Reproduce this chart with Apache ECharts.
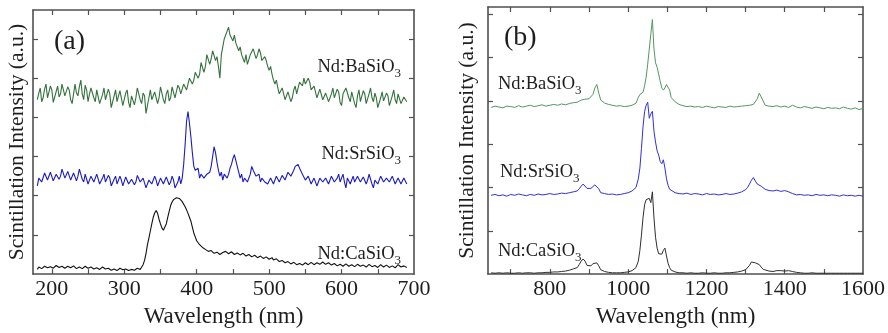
<!DOCTYPE html>
<html><head><meta charset="utf-8">
<script src="https://cdn.jsdelivr.net/npm/echarts@6/dist/echarts.min.js"></script>
<style>html,body{margin:0;padding:0;background:#fff}#c{width:888px;height:333px}</style>
</head><body><div id="c"></div>
<script>
// ---------- Panel (a): sampling grid (nm) ----------
const wavelengthStartA = 180;
const wavelengthStepA = 2;
// Nd:BaSiO3 (a)
const baSiO3A = [
4.45,4.62,4.75,4.4,4.5,4.72,4.85,4.5,4.55,4.8,4.7,4.38,4.4,4.66,4.8,4.52,4.6,4.85,4.9,4.55,
4.5,4.78,4.7,4.45,4.35,4.6,4.85,4.62,4.55,4.78,4.95,4.6,4.45,4.82,4.7,4.4,4.6,4.75,4.8,4.5,
4.4,4.7,4.65,4.35,4.3,4.58,4.75,4.45,4.5,4.72,4.6,4.25,4.2,4.55,4.7,4.4,4.45,4.68,4.65,4.3,
4.35,4.62,4.7,4.38,4.25,4.55,4.6,4.32,4.5,4.75,4.8,4.45,4.35,4.62,4.55,4.1,4.15,4.5,4.7,4.45,
4.4,4.65,4.6,4.35,4.5,4.78,4.75,4.45,4.35,4.6,4.7,4.42,4.5,4.78,4.8,4.5,4.55,4.82,4.75,4.6,
4.65,4.85,4.9,4.7,4.75,5.0,5.05,4.85,4.95,5.15,5.2,5.0,5.1,5.4,5.35,5.15,5.3,5.6,5.55,5.35,
5.5,5.7,5.75,5.45,5.55,5.3,5.0,5.6,5.8,6.0,6.05,6.2,6.3,6.1,6.15,5.95,6.1,5.9,5.85,5.7,
5.8,5.6,5.55,5.4,5.6,5.35,5.4,5.6,5.55,5.75,5.7,5.5,5.6,5.75,5.65,5.45,5.4,5.55,5.45,5.3,
5.2,5.3,5.1,4.95,4.85,4.95,4.75,4.6,4.55,4.75,4.7,4.45,4.45,4.65,4.6,4.4,4.5,4.7,4.8,4.6,
4.75,4.9,4.95,4.8,5.0,4.85,4.85,5.0,4.9,4.7,4.65,4.8,4.75,4.5,4.5,4.72,4.7,4.45,4.4,4.62,
4.6,4.4,4.35,4.6,4.75,4.5,4.45,4.72,4.65,4.38,4.3,4.6,4.55,4.75,4.8,4.5,4.4,4.65,4.6,4.35,
4.25,4.55,4.7,4.4,4.45,4.68,4.6,4.35,4.3,4.6,4.75,4.5,4.4,4.62,4.5,4.25,4.2,4.5,4.65,4.42,
4.4,4.62,4.55,4.3,4.25,4.55,4.7,4.45,4.35,4.6,4.6,4.35,4.3,4.52,4.5,4.4];
// Nd:SrSiO3 (a)
const srSiO3A = [
2.25,2.45,2.5,2.35,2.4,2.58,2.6,2.4,2.45,2.6,2.55,2.38,2.35,2.55,2.6,2.42,2.5,2.68,2.65,2.45,
2.45,2.62,2.6,2.4,2.4,2.58,2.55,2.38,2.5,2.68,2.65,2.42,2.35,2.55,2.5,2.3,2.3,2.5,2.55,2.35,
2.4,2.55,2.5,2.3,2.25,2.45,2.55,2.35,2.35,2.52,2.45,2.25,2.2,2.42,2.5,2.3,2.35,2.5,2.4,2.25,
2.3,2.48,2.5,2.3,2.25,2.42,2.45,2.28,2.35,2.52,2.55,2.35,2.3,2.45,2.4,2.2,2.2,2.4,2.45,2.3,
2.35,2.5,2.4,2.25,2.25,2.45,2.5,2.3,2.3,2.48,2.45,2.28,2.35,2.5,2.4,2.2,2.15,2.35,2.5,2.3,
2.45,2.8,3.3,3.9,4.15,3.85,3.5,3.1,2.75,2.65,2.6,2.7,2.45,2.55,2.6,2.45,2.4,2.55,2.5,2.6,
2.75,3.0,3.25,3.1,2.85,2.65,2.5,2.6,2.4,2.55,2.6,2.45,2.55,2.7,2.8,2.95,3.05,2.9,2.75,2.6,
2.45,2.55,2.35,2.45,2.5,2.35,2.4,2.55,2.75,2.65,2.6,2.5,2.45,2.55,2.35,2.45,2.5,2.35,2.4,2.3,
2.3,2.45,2.45,2.3,2.35,2.5,2.5,2.35,2.4,2.52,2.55,2.4,2.45,2.6,2.6,2.5,2.55,2.65,2.75,2.7,
2.8,2.7,2.65,2.55,2.5,2.4,2.35,2.5,2.45,2.3,2.3,2.45,2.4,2.25,2.35,2.45,2.5,2.35,2.3,2.45,
2.45,2.3,2.35,2.5,2.5,2.35,2.3,2.45,2.55,2.35,2.4,2.55,2.35,2.2,2.45,2.5,2.3,2.4,2.5,2.35,
2.35,2.5,2.55,2.35,2.3,2.48,2.45,2.3,2.4,2.55,2.5,2.3,2.2,2.4,2.45,2.3,2.35,2.5,2.55,2.35,
2.3,2.45,2.5,2.35,2.35,2.5,2.45,2.3,2.25,2.45,2.5,2.3,2.3,2.45,2.4,2.3];
// Nd:CaSiO3 (a)
const caSiO3A = [
0.12,0.18,0.2,0.14,0.15,0.2,0.22,0.16,0.14,0.19,0.2,0.15,0.16,0.22,0.24,0.17,0.15,0.2,0.2,0.15,
0.14,0.2,0.22,0.16,0.17,0.21,0.2,0.14,0.12,0.18,0.19,0.14,0.15,0.2,0.21,0.15,0.13,0.18,0.18,0.13,
0.11,0.16,0.17,0.12,0.13,0.18,0.19,0.13,0.1,0.15,0.15,0.1,0.08,0.13,0.14,0.09,0.1,0.15,0.16,0.11,
0.09,0.13,0.14,0.09,0.07,0.12,0.15,0.1,0.11,0.15,0.16,0.12,0.18,0.24,0.35,0.52,0.75,0.92,1.1,1.28,
1.45,1.56,1.62,1.55,1.4,1.28,1.18,1.12,1.13,1.28,1.45,1.6,1.75,1.84,1.9,1.93,1.95,1.96,1.93,1.9,
1.85,1.8,1.72,1.64,1.55,1.45,1.35,1.2,1.05,0.95,0.85,0.8,0.75,0.72,0.68,0.65,0.63,0.6,0.58,0.61,
0.6,0.55,0.53,0.57,0.56,0.51,0.5,0.55,0.55,0.6,0.58,0.53,0.52,0.56,0.57,0.52,0.5,0.55,0.54,0.5,
0.49,0.54,0.53,0.48,0.46,0.51,0.5,0.45,0.44,0.49,0.48,0.43,0.42,0.47,0.46,0.41,0.4,0.45,0.44,0.39,
0.38,0.42,0.42,0.36,0.34,0.39,0.38,0.32,0.3,0.35,0.34,0.29,0.27,0.32,0.31,0.26,0.24,0.3,0.29,0.24,
0.22,0.27,0.28,0.23,0.24,0.29,0.3,0.24,0.25,0.3,0.29,0.24,0.23,0.29,0.31,0.25,0.26,0.31,0.3,0.25,
0.24,0.29,0.29,0.23,0.22,0.27,0.27,0.21,0.2,0.25,0.26,0.2,0.21,0.26,0.25,0.2,0.19,0.24,0.24,0.19,
0.2,0.25,0.26,0.2,0.18,0.23,0.23,0.18,0.2,0.25,0.25,0.19,0.17,0.22,0.22,0.17,0.19,0.24,0.24,0.18,
0.18,0.23,0.23,0.17,0.16,0.21,0.21,0.16,0.19,0.24,0.24,0.18,0.17,0.21,0.2,0.17];

// ---------- Panel (b) ----------
const wavelengthB = [
650,660,670,680,690,700,710,720,730,740,750,760,770,780,790,800,810,820,830,840,850,860,
870,875,880,885,890,895,900,905,910,915,920,925,930,
940,950,960,970,980,990,1000,1010,1020,
1026,1030,1034,1038,1042,1046,1050,1054,1058,1062,1066,1070,1074,1078,1082,1086,1090,1094,1098,1102,1106,1110,
1120,1130,1140,1150,1160,1170,1180,1190,1200,1210,1220,1230,1240,1250,1260,1270,1280,1290,1300,
1305,1310,1315,1320,1325,1330,1335,1340,1345,1350,
1360,1370,1380,1390,1400,1410,1420,1430,1440,1450,1460,1470,1480,1490,1500,1510,1520,1530,1540,1550,1560,1570,1580,1590,1600];
const baSiO3B = [
3.85,3.88,3.86,3.84,3.88,3.87,3.85,3.89,3.86,3.88,3.9,3.87,3.89,3.91,3.88,3.9,3.92,3.9,3.93,3.91,3.94,3.96,
3.97,4.0,4.02,4.05,4.04,4.08,4.05,4.08,4.15,4.3,4.38,4.18,4.02,
3.95,3.92,3.9,3.88,3.89,3.87,3.88,3.9,3.95,
4.08,4.15,4.12,4.2,4.35,4.55,4.85,5.2,5.55,5.88,5.2,4.88,4.78,4.62,4.45,4.3,4.25,4.3,4.38,4.42,4.25,4.08,
3.98,3.92,3.89,3.87,3.88,3.86,3.87,3.85,3.88,3.86,3.84,3.87,3.86,3.85,3.88,3.86,3.87,3.88,3.89,
3.89,3.9,3.9,3.92,3.95,4.05,4.18,4.2,4.0,3.9,
3.88,3.87,3.89,3.86,3.88,3.85,3.9,3.86,3.84,3.87,3.85,3.83,3.86,3.84,3.82,3.85,3.83,3.84,3.82,3.86,3.83,3.81,3.84,3.8,3.83];
const srSiO3B = [
1.82,1.84,1.81,1.83,1.8,1.84,1.82,1.85,1.83,1.81,1.84,1.82,1.85,1.83,1.84,1.86,1.84,1.85,1.87,1.86,1.88,1.9,
1.92,1.97,2.03,2.08,2.05,1.98,1.95,1.98,2.02,2.06,2.09,1.97,1.88,
1.86,1.84,1.85,1.83,1.84,1.86,1.88,1.92,2.0,
2.2,2.45,2.9,3.4,3.75,3.9,3.97,3.6,3.7,3.76,3.3,3.05,2.85,2.75,2.6,2.55,2.64,2.45,2.2,2.05,1.96,1.92,
1.88,1.86,1.85,1.87,1.84,1.86,1.85,1.83,1.86,1.84,1.85,1.83,1.84,1.86,1.84,1.85,1.87,1.9,1.95,
2.0,2.08,2.17,2.23,2.15,2.08,2.06,2.03,2.0,1.96,
1.93,1.92,1.94,1.91,1.93,1.9,1.86,1.83,1.84,1.82,1.83,1.81,1.84,1.82,1.83,1.81,1.83,1.82,1.8,1.83,1.81,1.82,1.8,1.82,1.8];
const caSiO3B = [
0.03,0.02,0.03,0.02,0.03,0.02,0.02,0.03,0.02,0.03,0.03,0.02,0.03,0.03,0.04,0.04,0.05,0.05,0.06,0.07,0.09,0.12,
0.15,0.22,0.3,0.35,0.3,0.2,0.16,0.19,0.24,0.27,0.26,0.19,0.1,
0.06,0.04,0.03,0.03,0.03,0.04,0.05,0.08,0.15,
0.3,0.55,0.9,1.3,1.6,1.72,1.7,1.75,1.65,1.9,1.3,0.85,0.6,0.47,0.44,0.46,0.55,0.6,0.42,0.25,0.15,0.09,
0.05,0.03,0.03,0.02,0.03,0.02,0.02,0.03,0.02,0.02,0.03,0.02,0.02,0.03,0.03,0.04,0.05,0.07,0.1,
0.12,0.2,0.28,0.3,0.26,0.27,0.22,0.16,0.11,0.08,
0.07,0.06,0.08,0.08,0.07,0.08,0.06,0.04,0.03,0.02,0.02,0.03,0.02,0.02,0.02,0.02,0.02,0.02,0.02,0.02,0.02,0.02,0.02,0.02,0.02];

// ---------- Axis ticks / labels ----------
const xTicksA = [200,250,300,350,400,450,500,550,600,650];
const xLabelsA = [200,300,400,500,600,700];
const xTicksB = [700,800,900,1000,1100,1200,1300,1400,1500];
const xLabelsB = [800,1000,1200,1400,1600];
const yTicks = [1,2,3,4,5,6];
const sampleNames = ['Nd:BaSiO3','Nd:SrSiO3','Nd:CaSiO3'];

const FONT = "'Liberation Serif', 'Times New Roman', serif";
const AX = '#505050';
const TXT = '#1e1e1e';

function pairsA(vals){ return vals.map((v,i)=>[wavelengthStartA + wavelengthStepA*i, v]); }
function pairsB(vals){ return vals.map((v,i)=>[wavelengthB[i], v]); }

function xAx(grid, min, max, ticks, labels, pos){
  const bottom = pos === 'bottom';
  return {
    type:'value', gridIndex:grid, position:pos, min:min, max:max,
    axisLine:{show:true, onZero:false, lineStyle:{color:AX, width:1.6}},
    axisTick:{show:true, inside:true, length:5, customValues:ticks, lineStyle:{color:AX, width:1.2}},
    axisLabel:{show:bottom, customValues:labels, formatter:(v)=>String(v),
      fontFamily:FONT, fontSize:22, color:TXT, margin:4},
    splitLine:{show:false},
    name: bottom ? 'Wavelength (nm)' : '', nameLocation:'middle', nameGap:30,
    nameTextStyle:{fontFamily:FONT, fontSize:23, color:TXT}
  };
}
function yAx(grid, max, pos, gap){
  const left = pos === 'left';
  return {
    type:'value', gridIndex:grid, position:pos, min:0, max:max,
    axisLine:{show:true, onZero:false, lineStyle:{color:AX, width:1.6}},
    axisTick:{show:true, inside:true, length:5, customValues:yTicks, lineStyle:{color:AX, width:1.2}},
    axisLabel:{show:false},
    splitLine:{show:false},
    name: left ? 'Scintillation Intensity (a.u.)' : '', nameLocation:'middle', nameGap:gap,
    nameTextStyle:{fontFamily:FONT, fontSize:21.5, color:TXT}
  };
}
function line(xi, yi, data, color, w){
  return {type:'line', xAxisIndex:xi, yAxisIndex:yi, data:data, showSymbol:false, symbol:'none',
    animation:false, lineStyle:{color:color, width:w}, itemStyle:{color:color}};
}
function label(name, x, y, align, fs){
  const m = name.match(/^(.*?)(\d)$/);
  return {type:'text', silent:true, style:{
    text:'{a|'+m[1]+'}{s|'+m[2]+'}', x:x, y:y, textAlign:align, textVerticalAlign:'middle',
    rich:{a:{fontFamily:FONT, fontSize:fs, fill:TXT, color:TXT, lineHeight:20, verticalAlign:'top'},
          s:{fontFamily:FONT, fontSize:Math.round(fs*0.72), fill:TXT, color:TXT, lineHeight:12, padding:[9,0,0,0], verticalAlign:'top'}}
  }};
}

const GREEN_A = '#33723c', BLUE_A = '#1c1cc0', BLACK_A = '#111111';
const GREEN_B = '#559663', BLUE_B = '#3030dc', BLACK_B = '#2e2e2e';

const chart = echarts.init(document.getElementById('c'), null, {renderer:'canvas'});
chart.setOption({
  animation:false,
  backgroundColor:'#fff',
  grid:[
    {left:33, top:10, width:381, height:268},
    {left:488, top:7, width:377, height:270}
  ],
  xAxis:[
    xAx(0,174,700,xTicksA,xLabelsA,'bottom'),
    xAx(0,174,700,xTicksA,[], 'top'),
    xAx(1,642,1600,xTicksB,xLabelsB,'bottom'),
    xAx(1,642,1600,xTicksB,[], 'top')
  ],
  yAxis:[
    yAx(0,6.74,'left',5),
    yAx(0,6.74,'right',0),
    yAx(1,6.17,'left',10),
    yAx(1,6.17,'right',0)
  ],
  series:[
    line(0,0,pairsA(baSiO3A),GREEN_A,1.1),
    line(0,0,pairsA(srSiO3A),BLUE_A,1.1),
    line(0,0,pairsA(caSiO3A),BLACK_A,1.1),
    line(2,2,pairsB(baSiO3B),GREEN_B,1),
    line(2,2,pairsB(srSiO3B),BLUE_B,1),
    line(2,2,pairsB(caSiO3B),BLACK_B,1)
  ],
  graphic:[
    {type:'text', silent:true, style:{text:'(a)', x:54, y:42, textVerticalAlign:'middle', fontFamily:FONT, fontSize:28, fill:TXT}},
    {type:'text', silent:true, style:{text:'(b)', x:504, y:38, textVerticalAlign:'middle', fontFamily:FONT, fontSize:28, fill:TXT}},
    label(sampleNames[0], 401, 68, 'right', 18.5),
    label(sampleNames[1], 401, 155, 'right', 18.5),
    label(sampleNames[2], 401, 255, 'right', 18.5),
    label(sampleNames[0], 498, 85, 'left', 18.5),
    label(sampleNames[1], 500, 173, 'left', 18.5),
    label(sampleNames[2], 498, 252, 'left', 18.5)
  ]
});
</script>
</body></html>
